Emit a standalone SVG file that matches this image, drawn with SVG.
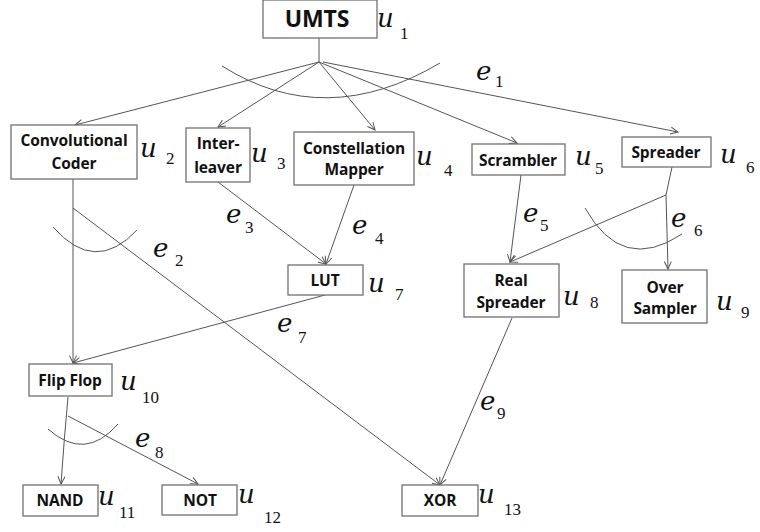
<svg xmlns="http://www.w3.org/2000/svg" width="760" height="532" viewBox="0 0 760 532">
<defs>
<marker id="arr" markerUnits="userSpaceOnUse" markerWidth="10" markerHeight="10" refX="8" refY="4" orient="auto">
<path d="M0.5,0.5 L8,4 L0.5,7.5" fill="none" stroke="#555" stroke-width="1"/>
</marker>
<style>
.box{fill:#fff;stroke:#707070;stroke-width:1.3}
.t{font-family:"Open Sans","Liberation Sans",sans-serif;font-weight:700;font-size:15.5px;fill:#111;text-anchor:middle;letter-spacing:-0.1px}
.m{font-family:"DejaVu Serif","Liberation Serif",serif;font-style:italic;font-size:26px;fill:#111}
.s{font-family:"Liberation Serif","DejaVu Serif",serif;font-style:normal;font-size:17px;fill:#111}
.ln{fill:none;stroke:#555;stroke-width:1}
.a{marker-end:url(#arr)}
</style>
</defs>
<rect width="760" height="532" fill="#fff"/>
<g id="connectors">
<path class="ln" d="M319,38 L319,62"/>
<path class="ln a" d="M319,62 L75,125"/>
<path class="ln a" d="M319,62 L218,127"/>
<path class="ln a" d="M319,62 L375,130"/>
<path class="ln a" d="M319,62 L517,143"/>
<path class="ln a" d="M323,62 L678,132"/>
<path class="ln" d="M222,66 Q325,131 440,63"/>
<path class="ln a" d="M73,179 L73,363"/>
<path class="ln a" d="M73,208 L440,485"/>
<path class="ln" d="M53,227 Q95,275 137,230"/>
<path class="ln a" d="M218,182 L326,264"/>
<path class="ln a" d="M354,185 L326,264"/>
<path class="ln a" d="M521,175 L510,262"/>
<path class="ln" d="M672,167 L666,195"/>
<path class="ln a" d="M666,195 L510,262"/>
<path class="ln a" d="M666,195 L668,269"/>
<path class="ln" d="M585,208 Q622,274 682,234"/>
<path class="ln a" d="M325,295 L73,363"/>
<path class="ln a" d="M512,318 L440,485"/>
<path class="ln a" d="M68,397 Q64,440 61,484"/>
<path class="ln a" d="M68,416 L198,484"/>
<path class="ln" d="M48,429 Q85,462 118,424"/>
</g>
<g id="edge-labels">
<text class="m" x="476" y="80">e<tspan class="s" x="495" y="87">1</tspan></text>
<text class="m" x="153" y="257">e<tspan class="s" x="175" y="266">2</tspan></text>
<text class="m" x="226" y="223">e<tspan class="s" x="245" y="233">3</tspan></text>
<text class="m" x="352" y="234">e<tspan class="s" x="375" y="244">4</tspan></text>
<text class="m" x="523" y="222">e<tspan class="s" x="540" y="231">5</tspan></text>
<text class="m" x="671" y="227">e<tspan class="s" x="694" y="236">6</tspan></text>
<text class="m" x="277" y="332">e<tspan class="s" x="298" y="343">7</tspan></text>
<text class="m" x="135" y="447">e<tspan class="s" x="155" y="458">8</tspan></text>
<text class="m" x="480" y="410">e<tspan class="s" x="497" y="419">9</tspan></text>
</g>
<g id="u1"><rect class="box" x="263" y="0" width="114" height="38"/><text class="t" x="317" y="27" style="font-size:23px">UMTS</text><text class="m" x="377" y="27">u<tspan class="s" x="400" y="39">1</tspan></text></g>
<g id="u2"><rect class="box" x="11" y="125" width="126" height="54"/><text class="t" x="74" y="146">Convolutional</text><text class="t" x="74" y="169">Coder</text><text class="m" x="140" y="157">u<tspan class="s" x="166" y="164">2</tspan></text></g>
<g id="u3"><rect class="box" x="186" y="128" width="64" height="54"/><text class="t" x="218" y="149">Inter-</text><text class="t" x="218" y="173">leaver</text><text class="m" x="251" y="162">u<tspan class="s" x="277" y="169">3</tspan></text></g>
<g id="u4"><rect class="box" x="294" y="132" width="120" height="53"/><text class="t" x="354" y="154">Constellation</text><text class="t" x="354" y="175">Mapper</text><text class="m" x="416" y="165">u<tspan class="s" x="444" y="176">4</tspan></text></g>
<g id="u5"><rect class="box" x="472" y="144" width="93" height="31"/><text class="t" x="518" y="166">Scrambler</text><text class="m" x="575" y="165">u<tspan class="s" x="595" y="174">5</tspan></text></g>
<g id="u6"><rect class="box" x="622" y="137" width="89" height="30"/><text class="t" x="666" y="158">Spreader</text><text class="m" x="720" y="163">u<tspan class="s" x="746" y="173">6</tspan></text></g>
<g id="u7"><rect class="box" x="288" y="265" width="75" height="30"/><text class="t" x="325" y="286">LUT</text><text class="m" x="368" y="292">u<tspan class="s" x="395" y="300">7</tspan></text></g>
<g id="u8"><rect class="box" x="464" y="264" width="95" height="53"/><text class="t" x="511" y="286">Real</text><text class="t" x="511" y="308">Spreader</text><text class="m" x="563" y="305">u<tspan class="s" x="590" y="308">8</tspan></text></g>
<g id="u9"><rect class="box" x="622" y="270" width="85" height="53"/><text class="t" x="665" y="293">Over</text><text class="t" x="665" y="314">Sampler</text><text class="m" x="716" y="310">u<tspan class="s" x="741" y="318">9</tspan></text></g>
<g id="u10"><rect class="box" x="29" y="364" width="83" height="32"/><text class="t" x="70" y="386">Flip Flop</text><text class="m" x="120" y="390">u<tspan class="s" x="142" y="403">10</tspan></text></g>
<g id="u11"><rect class="box" x="23" y="485" width="75" height="31"/><text class="t" x="60" y="506">NAND</text><text class="m" x="98" y="505">u<tspan class="s" x="119" y="518">11</tspan></text></g>
<g id="u12"><rect class="box" x="162" y="485" width="75" height="30"/><text class="t" x="200" y="506">NOT</text><text class="m" x="238" y="503">u<tspan class="s" x="264" y="523">12</tspan></text></g>
<g id="u13"><rect class="box" x="402" y="485" width="76" height="31"/><text class="t" x="440" y="506">XOR</text><text class="m" x="478" y="503">u<tspan class="s" x="504" y="515">13</tspan></text></g>
</svg>
